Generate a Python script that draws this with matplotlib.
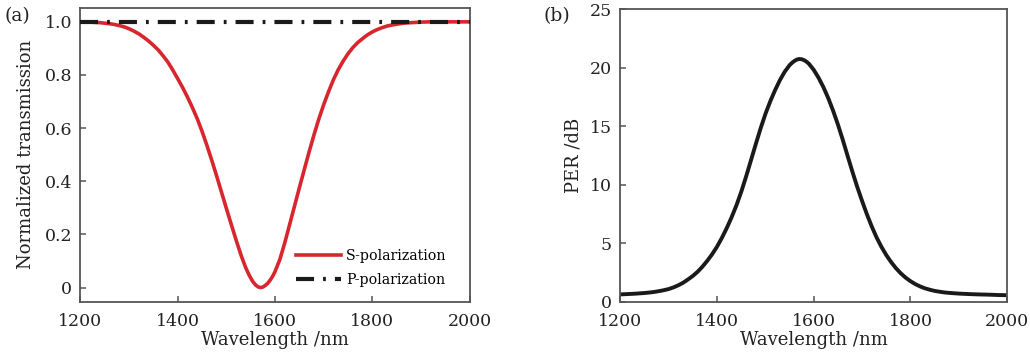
import matplotlib
matplotlib.use("Agg")
import matplotlib.pyplot as plt

plt.rcParams['font.family'] = ['DejaVu Serif']
plt.rcParams['lines.scale_dashes'] = False

# ---- data ----
wl_s = [1200, 1210, 1220, 1230, 1240, 1250, 1260, 1270, 1280, 1290,
        1300, 1310, 1320, 1330, 1340, 1350, 1360, 1370, 1380, 1390,
        1400, 1410, 1420, 1430, 1440, 1450, 1460, 1470, 1480, 1490,
        1500, 1510, 1520, 1530, 1535, 1540, 1545, 1550, 1555, 1560, 1565,
        1570, 1575, 1580, 1585, 1590, 1595, 1600, 1610, 1620, 1630,
        1640, 1650, 1660, 1670, 1680, 1690, 1700, 1710, 1720, 1730,
        1740, 1750, 1760, 1770, 1780, 1790, 1800, 1810, 1820, 1830,
        1840, 1850, 1860, 1870, 1880, 1890, 1900, 1920, 1940, 1960, 1980, 2000]
t_s = [1.000, 1.000, 0.999, 0.998, 0.997, 0.995, 0.993, 0.990, 0.986, 0.981,
       0.974, 0.965, 0.955, 0.942, 0.928, 0.912, 0.894, 0.872, 0.848, 0.818,
       0.786, 0.753, 0.717, 0.678, 0.636, 0.588, 0.535, 0.479, 0.420, 0.359,
       0.298, 0.238, 0.179, 0.123, 0.098, 0.074, 0.054, 0.036, 0.021, 0.010, 0.003,
       0.000, 0.002, 0.008, 0.016, 0.028, 0.042, 0.060, 0.106, 0.168, 0.237,
       0.306, 0.375, 0.443, 0.510, 0.574, 0.634, 0.688, 0.737, 0.782, 0.820,
       0.852, 0.880, 0.903, 0.922, 0.937, 0.951, 0.962, 0.971, 0.978, 0.984,
       0.988, 0.991, 0.994, 0.996, 0.997, 0.998, 0.999, 1.000, 1.000, 1.000, 1.000, 1.000]
wl_p = [1200, 2000]
t_p = [1.0, 1.0]

wl_per = [1200, 1210, 1220, 1230, 1240, 1250, 1260, 1270, 1280, 1290,
          1300, 1310, 1320, 1330, 1340, 1350, 1360, 1370, 1380, 1390,
          1400, 1410, 1420, 1430, 1440, 1450, 1460, 1470, 1480, 1490,
          1500, 1510, 1520, 1530, 1540, 1550, 1555, 1560, 1565, 1570,
          1575, 1580, 1585, 1590, 1600, 1610, 1620, 1630, 1640, 1650,
          1660, 1670, 1680, 1690, 1700, 1710, 1720, 1730, 1740, 1750,
          1760, 1770, 1780, 1790, 1800, 1810, 1820, 1830, 1840, 1850,
          1860, 1870, 1880, 1890, 1900, 1920, 1940, 1960, 1980, 2000]
per = [0.62, 0.64, 0.66, 0.68, 0.71, 0.74, 0.78, 0.83, 0.90, 0.98,
       1.08, 1.22, 1.40, 1.62, 1.90, 2.20, 2.56, 3.00, 3.50, 4.06,
       4.70, 5.45, 6.28, 7.20, 8.22, 9.38, 10.68, 12.06, 13.45, 14.80,
       16.04, 17.12, 18.08, 18.94, 19.66, 20.22, 20.42, 20.58, 20.70, 20.75,
       20.73, 20.65, 20.52, 20.34, 19.82, 19.14, 18.34, 17.40, 16.33, 15.14,
       13.84, 12.46, 11.10, 9.80, 8.60, 7.46, 6.42, 5.48, 4.68, 3.98,
       3.38, 2.86, 2.42, 2.05, 1.75, 1.50, 1.30, 1.14, 1.02, 0.92,
       0.85, 0.79, 0.75, 0.72, 0.69, 0.65, 0.62, 0.60, 0.57, 0.55]

xticks = [1200, 1400, 1600, 1800, 2000]
yticks_a = [0, 0.2, 0.4, 0.6, 0.8, 1.0]
yticklabels_a = ['0', '0.2', '0.4', '0.6', '0.8', '1.0']
yticks_b = [0, 5, 10, 15, 20, 25]

fig = plt.figure(figsize=(10.3, 3.57), dpi=100)
ax1 = fig.add_axes([0.0781, 0.155, 0.3778, 0.8225])
ax2 = fig.add_axes([0.6022, 0.155, 0.3757, 0.819])

spine_col = '#555555'
txt_col = '#222222'
fs_tick = 12.5
fs_lab = 13

def style(ax):
    for s in ax.spines.values():
        s.set_color(spine_col)
        s.set_linewidth(1.3)
    ax.tick_params(direction='in', length=4, width=1.1, color=spine_col,
                   labelsize=fs_tick, top=False, right=False,
                   labelcolor=txt_col)
    ax.tick_params(axis='x', pad=8)
    ax.tick_params(axis='y', pad=6)
    ax.set_xlim(1200, 2000)
    ax.set_xticks(xticks)
    ax.set_xlabel('Wavelength /nm', fontsize=fs_lab, labelpad=1, color=txt_col)

# panel (a)
ax1.plot(wl_s, t_s, color='#d7262e', lw=2.6, label='S-polarization', zorder=2,
         solid_joinstyle='round')
ax1.plot(wl_p, t_p, color='#1a1a1a', lw=3.0, dashes=(13, 6.5, 2, 6.5),
         dash_capstyle='butt', label='P-polarization', zorder=3)
style(ax1)
ax1.set_ylim(-0.053, 1.052)
ax1.set_yticks(yticks_a)
ax1.set_yticklabels(yticklabels_a)
ax1.set_ylabel('Normalized transmission', fontsize=fs_lab, labelpad=7, color=txt_col)
ax1.legend(loc='lower right', frameon=False, fontsize=10.2,
           handlelength=3.2, handletextpad=0.35, labelspacing=0.75,
           borderaxespad=0.0, bbox_to_anchor=(0.955, 0.03))
fig.text(0.004, 0.955, '(a)', fontsize=13.5, va='center', ha='left', color=txt_col)

# panel (b)
ax2.plot(wl_per, per, color='#1a1a1a', lw=2.8, solid_joinstyle='round')
style(ax2)
ax2.set_ylim(0, 25)
ax2.set_yticks(yticks_b)
ax2.set_ylabel('PER /dB', fontsize=fs_lab, labelpad=5, color=txt_col)
fig.text(0.528, 0.955, '(b)', fontsize=13.5, va='center', ha='left', color=txt_col)

fig.savefig('out.png', dpi=100, facecolor='white')
